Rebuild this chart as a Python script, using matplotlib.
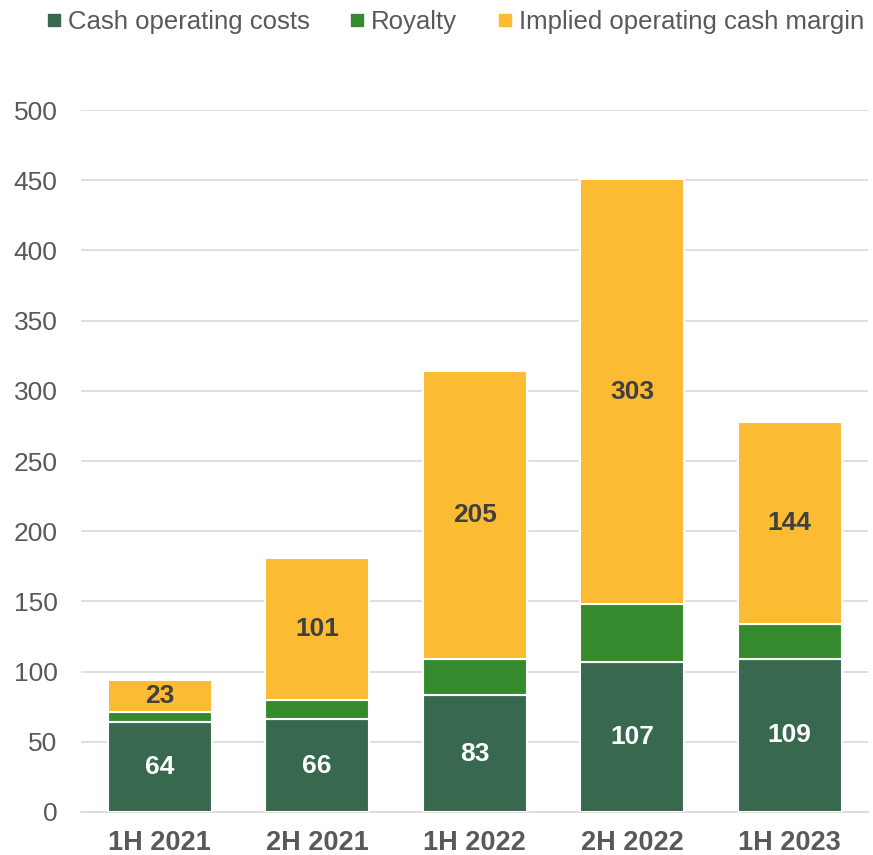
import matplotlib
matplotlib.use("Agg")
import matplotlib.pyplot as plt
from matplotlib.lines import Line2D

categories = ["1H 2021", "2H 2021", "1H 2022", "2H 2022", "1H 2023"]
cash_costs = [64, 66, 83, 107, 109]
royalty = [7, 14, 26, 41, 25]
margin = [23, 101, 205, 303, 144]
yticks = [0, 50, 100, 150, 200, 250, 300, 350, 400, 450, 500]

c_cost = "#38694F"
c_roy = "#368A2E"
c_mar = "#FBBC33"

plt.rcParams['font.family'] = ['Liberation Sans', 'DejaVu Sans']

fig = plt.figure(figsize=(8.73, 8.55), dpi=100)
ax = fig.add_axes([0.0928, 0.0503, 0.902, 0.821])

x = list(range(len(categories)))
w = 0.66
ax.bar(x, cash_costs, w, color=c_cost, edgecolor="white", linewidth=1.5, zorder=3)
ax.bar(x, royalty, w, bottom=cash_costs, color=c_roy, edgecolor="white", linewidth=1.5, zorder=3)
bot3 = [a + b for a, b in zip(cash_costs, royalty)]
ax.bar(x, margin, w, bottom=bot3, color=c_mar, edgecolor="white", linewidth=1.5, zorder=3)

for xi, v in zip(x, cash_costs):
    ax.text(xi, v / 2, str(v), ha="center", va="center", color="white",
            fontsize=19, fontweight="bold", zorder=4)
for xi, v, b in zip(x, margin, bot3):
    ax.text(xi, b + v / 2, str(v), ha="center", va="center", color="#404040",
            fontsize=19, fontweight="bold", zorder=4)

ax.set_xlim(-0.5, 4.5)
ax.set_ylim(0, 500)
ax.set_yticks(yticks)
ax.set_xticks(x)
ax.set_xticklabels(categories, fontsize=19.5, fontweight="bold", color="#595959")
ax.tick_params(axis="y", labelsize=19, labelcolor="#595959", length=0, pad=17)
ax.tick_params(axis="x", length=0, pad=13)
ax.grid(axis="y", color="#D9D9D9", linewidth=1.2, zorder=0)
for s in ["top", "right", "left"]:
    ax.spines[s].set_visible(False)
ax.spines["bottom"].set_color("#D9D9D9")
ax.spines["bottom"].set_linewidth(1.2)

handles = [Line2D([], [], marker="s", linestyle="none", markersize=8, color=c)
           for c in (c_cost, c_roy, c_mar)]
fig.legend(handles, ["Cash operating costs", "Royalty", "Implied operating cash margin"],
           loc="upper center", bbox_to_anchor=(0.519, 1.015), ncol=3, frameon=False,
           fontsize=18.5, labelcolor="#595959", handletextpad=0.1, columnspacing=1.4,
           handlelength=0.9)

fig.savefig("out.png", dpi=100)
